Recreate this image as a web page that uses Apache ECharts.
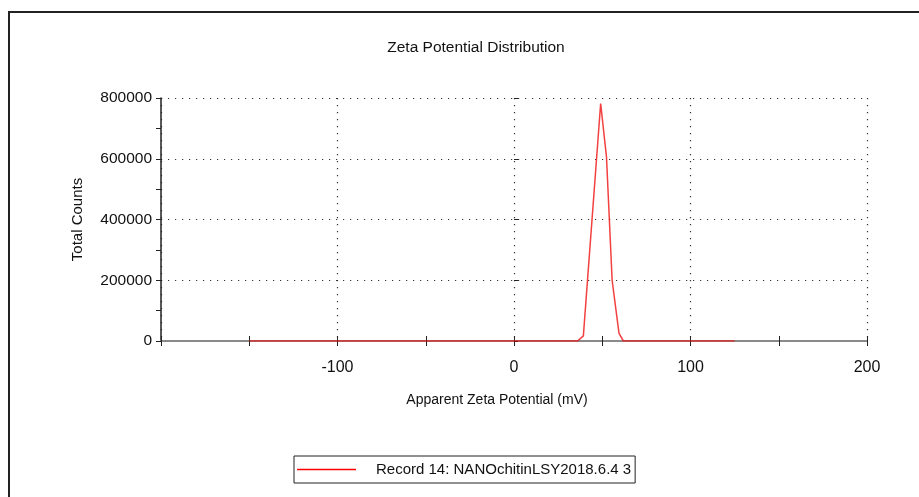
<!DOCTYPE html>
<html lang="en">
<head>
  <meta charset="UTF-8">
  <title>Zeta Potential Distribution</title>
  <style type="text/css">
    html, body { margin: 0; padding: 0; background: #fff; }
    #chart { width: 919px; height: 497px; }
  </style>
</head>
<body>
  <div id="chart"></div>
  <script src="https://cdn.jsdelivr.net/npm/echarts@6/dist/echarts.min.js"></script>
  <script>
    // zeta potential (mV) and total counts
    const potentials = [-150, 36, 39.3, 49.1, 52.4, 55.6, 59.5, 62, 125]
    const counts = [0, 0, 17000, 782000, 606000, 200000, 25000, 0, 0]
    const recordName = 'Record 14: NANOchitinLSY2018.6.4 3'
    const xTickLabels = [-100, 0, 100, 200]

    const font = 'Liberation Sans, Arial, sans-serif'
    const dotted = { color: '#333', width: 1.2, type: [1.2, 5.8] }

    const chart = echarts.init(document.getElementById('chart'))

    const xBase = {
      type: 'value',
      min: -200,
      max: 200,
      interval: 100,
      position: 'bottom'
    }
    const yBase = {
      type: 'value',
      min: 0,
      max: 800000,
      interval: 200000,
      position: 'left'
    }

    chart.setOption({
      backgroundColor: '#fff',
      animation: false,
      title: {
        text: 'Zeta Potential Distribution',
        left: 471,
        top: 35,
        textAlign: 'center',
        textStyle: { fontFamily: font, fontSize: 15.5, fontWeight: 'normal', color: '#111' }
      },
      legend: {
        left: 294,
        top: 456,
        padding: [6, 4, 6, 3],
        borderColor: '#222',
        borderWidth: 1,
        icon: 'rect',
        itemWidth: 59,
        itemHeight: 1.4,
        data: [{
          name: recordName,
          itemStyle: { color: '#ff0000', borderWidth: 0 },
          lineStyle: { color: '#ff0000', width: 0, opacity: 0 }
        }],
        textStyle: { fontFamily: font, fontSize: 15, color: '#111', padding: [0, 0, 0, 15] }
      },
      grid: { left: 161, right: 52, top: 98, bottom: 156 },
      graphic: [{
        type: 'rect',
        shape: { x: 9, y: 12, width: 1000, height: 1000 },
        style: { fill: 'none', stroke: '#222', lineWidth: 2 },
        silent: true
      }],
      xAxis: [
        Object.assign({}, xBase, {
          name: 'Apparent Zeta Potential (mV)',
          nameLocation: 'middle',
          nameGap: 52,
          nameTextStyle: { fontFamily: font, fontSize: 14, color: '#111', padding: [0, 34, 0, 0] },
          axisLine: { show: true, onZero: false, lineStyle: { color: '#8a8a8a', width: 2 } },
          axisTick: { show: true, length: 5, lineStyle: { color: '#222' } },
          minorTick: { show: true, splitNumber: 2, length: 5, lineStyle: { color: '#222' } },
          axisLabel: {
            margin: 19,
            fontFamily: font,
            fontSize: 16,
            color: '#111',
            formatter: v => xTickLabels.includes(v) ? String(v) : ''
          },
          splitLine: { show: true, lineStyle: dotted }
        }),
        Object.assign({}, xBase, {
          axisLine: { show: false },
          axisTick: { show: true, inside: true, length: 5, lineStyle: { color: '#222' } },
          minorTick: { show: true, splitNumber: 2, length: 5, lineStyle: { color: '#222' } },
          axisLabel: { show: false },
          splitLine: { show: false }
        })
      ],
      yAxis: [
        Object.assign({}, yBase, {
          name: 'Total Counts',
          nameLocation: 'middle',
          nameGap: 76,
          nameTextStyle: { fontFamily: font, fontSize: 15, color: '#111' },
          axisLine: { show: true, onZero: false, lineStyle: { color: '#222', width: 1.5 } },
          axisTick: { show: true, length: 5, lineStyle: { color: '#222' } },
          minorTick: { show: true, splitNumber: 2, length: 5, lineStyle: { color: '#222' } },
          axisLabel: { margin: 9, fontFamily: font, fontSize: 15.5, color: '#111', formatter: v => String(v) },
          splitLine: { show: true, lineStyle: dotted }
        }),
        Object.assign({}, yBase, {
          axisLine: { show: false },
          axisTick: { show: true, inside: true, length: 4, lineStyle: { color: '#222' } },
          axisLabel: { show: false },
          splitLine: { show: false }
        })
      ],
      series: [{
        name: recordName,
        type: 'line',
        xAxisIndex: 0,
        yAxisIndex: 0,
        z: 5,
        showSymbol: false,
        symbol: 'none',
        color: '#ff0000',
        itemStyle: { color: '#ff0000' },
        lineStyle: { color: '#f01010', width: 1.5, opacity: 0.8 },
        data: potentials.map((p, i) => [p, counts[i]])
      }]
    })

    window.addEventListener('resize', () => chart.resize())
  </script>
</body>
</html>
